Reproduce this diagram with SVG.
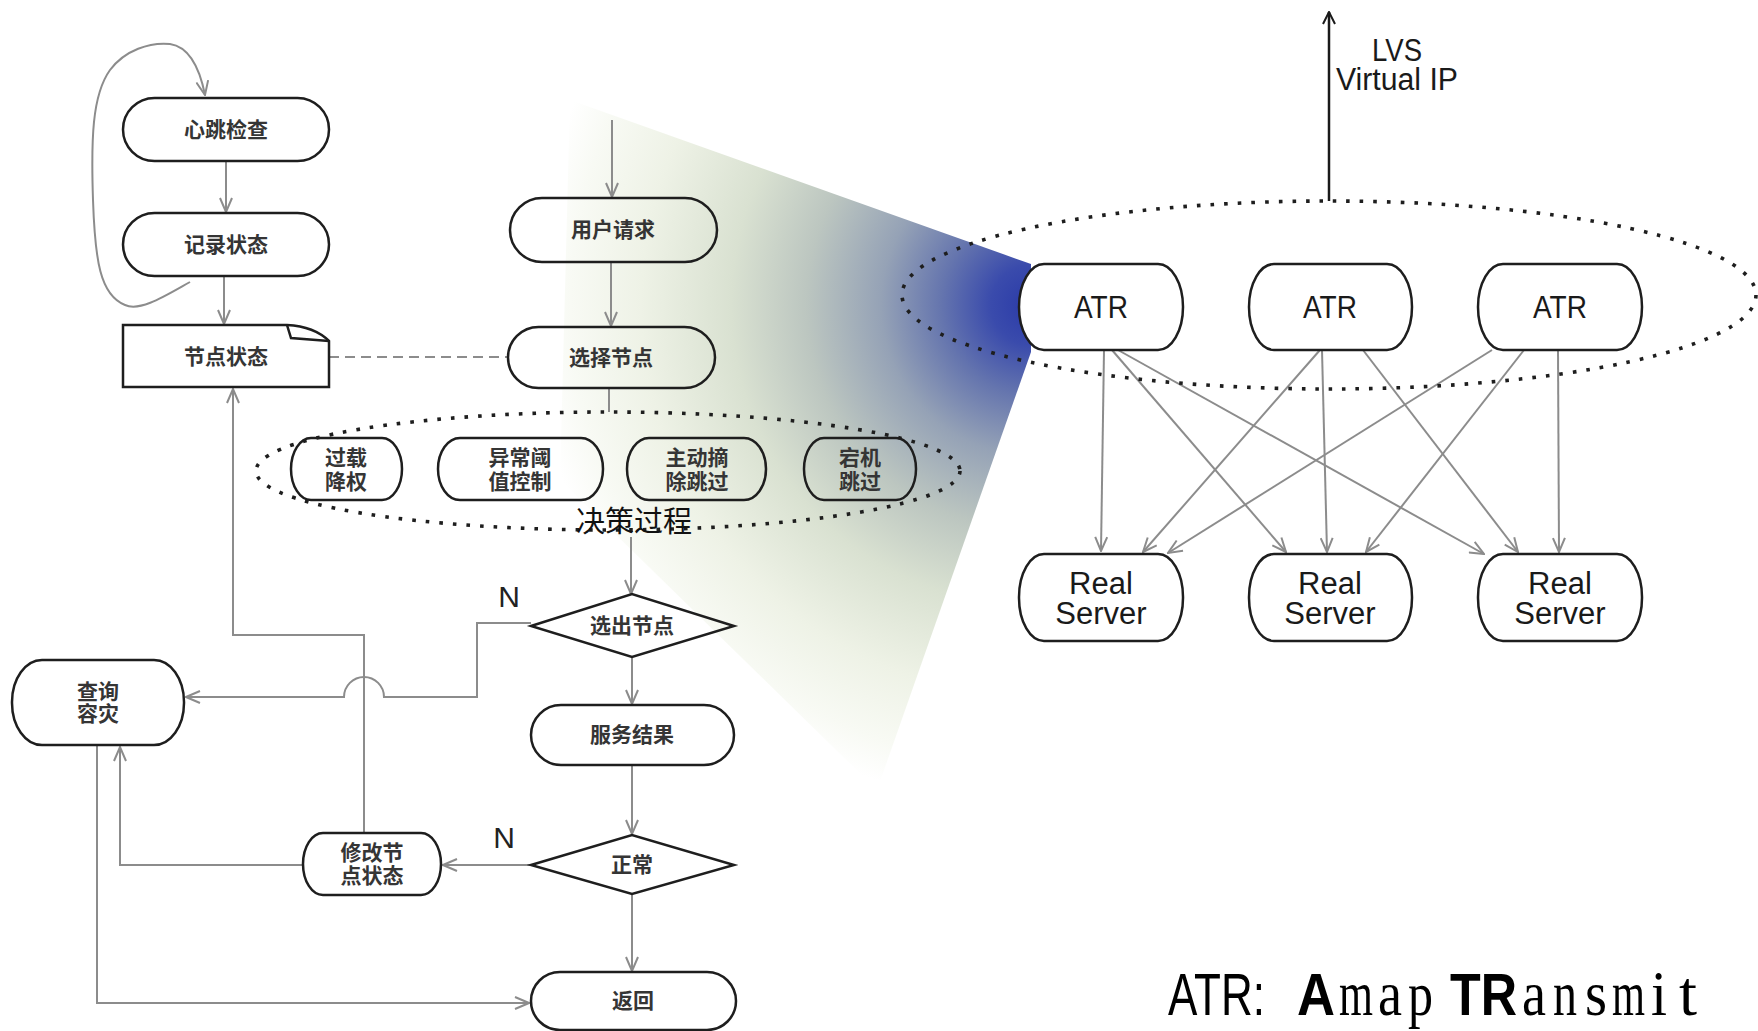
<svg xmlns="http://www.w3.org/2000/svg" width="1758" height="1031" viewBox="0 0 1758 1031">
  <defs>
    <!-- zoom-in wedge shading: pale green fading to deep blue at the ATR node -->
    <radialGradient id="wedgeGrad" gradientUnits="userSpaceOnUse" cx="1031" cy="305" r="500" fx="1031" fy="305">
      <stop offset="0" stop-color="#2a3aa8"/>
      <stop offset="0.08" stop-color="#3a4bac"/>
      <stop offset="0.18" stop-color="#6575ae"/>
      <stop offset="0.3" stop-color="#95a2b6"/>
      <stop offset="0.45" stop-color="#bcc6c0"/>
      <stop offset="0.6" stop-color="#d9e1d1"/>
      <stop offset="0.78" stop-color="#eef2e6"/>
      <stop offset="0.92" stop-color="#f8faf4"/>
      <stop offset="1" stop-color="#ffffff"/>
    </radialGradient>
    <marker id="arrowGray" markerUnits="userSpaceOnUse" markerWidth="16" markerHeight="14" viewBox="0 0 16 14" refX="15" refY="7" orient="auto">
      <path d="M1,1 L15,7 L1,13" fill="none" stroke="#8c8c8c" stroke-width="2"/>
    </marker>
    <marker id="arrowBlack" markerUnits="userSpaceOnUse" markerWidth="14" markerHeight="14" viewBox="0 0 14 14" refX="13" refY="7" orient="auto">
      <path d="M1,1 L13,7 L1,13" fill="none" stroke="#1a1a1a" stroke-width="2"/>
    </marker>
  </defs>
  <style>
    .box { fill: none; stroke: #1e1e1e; stroke-width: 2.5; }
    .wbox { fill: #ffffff; stroke: #1e1e1e; stroke-width: 2.5; }
    .zh { font-family: "Noto Sans CJK SC", "Noto Sans", sans-serif; font-size: 21px; font-weight: bold; fill: #353535; text-anchor: middle; }
    .en { font-family: "Liberation Sans", Arial, sans-serif; font-size: 31px; fill: #1a1a1a; text-anchor: middle; }
    .edge { fill: none; stroke: #8c8c8c; stroke-width: 2; }
    .arrow { marker-end: url(#arrowGray); }
    .dots { fill: none; stroke: #1e1e1e; stroke-width: 3.6; stroke-dasharray: 3.6 10; }
    .lbl { font-family: "Liberation Sans", Arial, sans-serif; font-size: 30px; fill: #222; text-anchor: middle; }
    .mono { font-family: "Liberation Serif", "Times New Roman", serif; font-size: 64px; }
  </style>

  <rect width="1758" height="1031" fill="#ffffff"/>

  <!-- shaded wedge linking the flowchart to the first ATR -->
  <polygon points="570,100 1031,264 1031,352 877,790 560,480" fill="url(#wedgeGrad)"/>

  <!-- connectors -->
  <g id="connectors">
    <!-- heartbeat loop -->
    <path class="edge arrow" d="M190,282 C165,296 140,312 125,305 C100,295 95,260 93,200 C91,140 92,95 110,70 C125,50 150,42 170,44 C190,47 200,70 205,95"/>
    <line class="edge arrow" x1="226" y1="161" x2="226" y2="212"/>
    <line class="edge arrow" x1="224" y1="276" x2="224" y2="324"/>
    <line x1="329" y1="357" x2="508" y2="357" stroke="#8c8c8c" stroke-width="2" stroke-dasharray="10 6"/>

    <line class="edge arrow" x1="612" y1="120" x2="612" y2="197"/>
    <line class="edge arrow" x1="611" y1="262" x2="611" y2="326"/>
    <line class="edge" x1="609" y1="388" x2="609" y2="412"/>
    <line class="edge arrow" x1="631" y1="537" x2="631" y2="594"/>
    <line class="edge arrow" x1="632" y1="657" x2="632" y2="704"/>
    <line class="edge arrow" x1="632" y1="765" x2="632" y2="834"/>
    <line class="edge arrow" x1="632" y1="894" x2="632" y2="971"/>

    <!-- not selected: fall back to disaster-recovery lookup (hops over the status line) -->
    <path class="edge arrow" d="M531,623 L477,623 L477,697 L384,697 A20,20 0 0 0 344,697 L186,697"/>
    <!-- abnormal: update node status -->
    <line class="edge arrow" x1="531" y1="865" x2="443" y2="865"/>
    <path class="edge arrow" d="M364,833 L364,635 L233,635 L233,389"/>
    <path class="edge arrow" d="M303,865 L120,865 L120,747"/>
    <path class="edge arrow" d="M97,745 L97,1003 L529,1003"/>

    <!-- LVS virtual IP -->
    <line x1="1329" y1="201" x2="1329" y2="12" stroke="#1a1a1a" stroke-width="2.5" marker-end="url(#arrowBlack)"/>

    <!-- ATR to Real Server mesh -->
    <line class="edge arrow" x1="1104" y1="350" x2="1101" y2="551"/>
    <line class="edge arrow" x1="1112" y1="350" x2="1286" y2="552"/>
    <line class="edge arrow" x1="1118" y1="350" x2="1484" y2="554"/>
    <line class="edge arrow" x1="1320" y1="350" x2="1143" y2="552"/>
    <line class="edge arrow" x1="1322" y1="350" x2="1327" y2="552"/>
    <line class="edge arrow" x1="1363" y1="350" x2="1518" y2="552"/>
    <line class="edge arrow" x1="1492" y1="350" x2="1168" y2="553"/>
    <line class="edge arrow" x1="1524" y1="350" x2="1366" y2="552"/>
    <line class="edge arrow" x1="1558" y1="350" x2="1559" y2="552"/>
  </g>

  <!-- health-check side -->
  <g id="node-heartbeat">
    <rect class="box" x="123" y="98" width="206" height="63" rx="31.5"/>
    <text class="zh" x="226" y="137">心跳检查</text>
  </g>
  <g id="node-record">
    <rect class="box" x="123" y="213" width="206" height="63" rx="31.5"/>
    <text class="zh" x="226" y="252">记录状态</text>
  </g>
  <g id="node-status">
    <path class="box" d="M123,325 L287,325 C305,326 320,332 329,341 L329,387 L123,387 Z"/>
    <path class="box" d="M287,325 L291,338 L329,341"/>
    <text class="zh" x="226" y="364">节点状态</text>
  </g>

  <!-- request flow -->
  <g id="node-request">
    <rect class="box" x="510" y="198" width="207" height="64" rx="32"/>
    <text class="zh" x="613" y="237">用户请求</text>
  </g>
  <g id="node-select">
    <rect class="box" x="508" y="327" width="207" height="61" rx="30.5"/>
    <text class="zh" x="611" y="365">选择节点</text>
  </g>

  <g id="group-decision">
    <ellipse class="dots" cx="608" cy="471" rx="352" ry="59"/>
    <text x="634" y="532" font-family="'Noto Sans CJK SC', sans-serif" font-size="29" fill="#111" text-anchor="middle">决策过程</text>
  </g>
  <g id="node-overload">
    <rect class="box" x="291" y="438" width="111" height="62" rx="20" ry="31"/>
    <text class="zh" x="346" y="465">过载<tspan x="346" dy="24">降权</tspan></text>
  </g>
  <g id="node-threshold">
    <rect class="box" x="438" y="438" width="165" height="62" rx="22" ry="31"/>
    <text class="zh" x="520" y="465">异常阈<tspan x="520" dy="24">值控制</tspan></text>
  </g>
  <g id="node-removed">
    <rect class="box" x="627" y="438" width="139" height="62" rx="22" ry="31"/>
    <text class="zh" x="697" y="465">主动摘<tspan x="697" dy="24">除跳过</tspan></text>
  </g>
  <g id="node-down">
    <rect class="box" x="804" y="438" width="112" height="62" rx="20" ry="31"/>
    <text class="zh" x="860" y="465">宕机<tspan x="860" dy="24">跳过</tspan></text>
  </g>

  <g id="node-picked">
    <polygon class="box" points="531,626 632,594 734,626 632,657"/>
    <text class="zh" x="632" y="633">选出节点</text>
    <text class="lbl" x="509" y="607">N</text>
  </g>
  <g id="node-result">
    <rect class="box" x="531" y="705" width="203" height="60" rx="30"/>
    <text class="zh" x="632" y="742">服务结果</text>
  </g>
  <g id="node-normal">
    <polygon class="box" points="531,865 632,835 734,865 632,894"/>
    <text class="zh" x="632" y="872">正常</text>
    <text class="lbl" x="504" y="848">N</text>
  </g>
  <g id="node-return">
    <rect class="box" x="531" y="972" width="205" height="58" rx="29"/>
    <text class="zh" x="633" y="1008">返回</text>
  </g>
  <g id="node-fallback">
    <rect class="box" x="12" y="660" width="172" height="85" rx="30" ry="42"/>
    <text class="zh" x="98" y="699">查询<tspan x="98" dy="22">容灾</tspan></text>
  </g>
  <g id="node-update">
    <rect class="box" x="303" y="833" width="138" height="62" rx="20" ry="31"/>
    <text class="zh" x="372" y="860">修改节<tspan x="372" dy="23">点状态</tspan></text>
  </g>

  <!-- ATR cluster -->
  <g id="group-lvs">
    <ellipse class="dots" cx="1329" cy="295" rx="427" ry="94"/>
    <text class="en" x="1397" y="61" textLength="50" lengthAdjust="spacingAndGlyphs">LVS</text>
    <text class="en" x="1397" y="90" textLength="122" lengthAdjust="spacingAndGlyphs">Virtual IP</text>
  </g>
  <g id="node-atr1">
    <rect class="wbox" x="1019" y="264" width="164" height="86" rx="25" ry="43"/>
    <text class="en" x="1101" y="318" textLength="54" lengthAdjust="spacingAndGlyphs">ATR</text>
  </g>
  <g id="node-atr2">
    <rect class="wbox" x="1249" y="264" width="163" height="86" rx="25" ry="43"/>
    <text class="en" x="1330" y="318" textLength="54" lengthAdjust="spacingAndGlyphs">ATR</text>
  </g>
  <g id="node-atr3">
    <rect class="wbox" x="1478" y="264" width="164" height="86" rx="25" ry="43"/>
    <text class="en" x="1560" y="318" textLength="54" lengthAdjust="spacingAndGlyphs">ATR</text>
  </g>
  <g id="node-rs1">
    <rect class="wbox" x="1019" y="554" width="164" height="87" rx="25" ry="43"/>
    <text class="en" x="1101" y="594">Real<tspan x="1101" dy="30">Server</tspan></text>
  </g>
  <g id="node-rs2">
    <rect class="wbox" x="1249" y="554" width="163" height="87" rx="25" ry="43"/>
    <text class="en" x="1330" y="594">Real<tspan x="1330" dy="30">Server</tspan></text>
  </g>
  <g id="node-rs3">
    <rect class="wbox" x="1478" y="554" width="164" height="87" rx="25" ry="43"/>
    <text class="en" x="1560" y="594">Real<tspan x="1560" dy="30">Server</tspan></text>
  </g>

  <!-- legend: sans capitals, lower case set one letter per fixed-width cell -->
  <g id="legend" fill="#000">
    <text x="1168" y="1015" font-family="'Liberation Sans', Arial, sans-serif" font-size="60" textLength="97" lengthAdjust="spacingAndGlyphs">ATR:</text>
    <text x="1297" y="1015" font-family="'Liberation Sans', Arial, sans-serif" font-size="60" font-weight="bold" textLength="38" lengthAdjust="spacingAndGlyphs">A</text>
    <text x="1450" y="1015" font-family="'Liberation Sans', Arial, sans-serif" font-size="60" font-weight="bold" textLength="67" lengthAdjust="spacingAndGlyphs">TR</text>
    <text class="mono" x="1339" y="1015" textLength="34" lengthAdjust="spacingAndGlyphs">m</text>
    <text class="mono" x="1378" y="1015" textLength="24" lengthAdjust="spacingAndGlyphs">a</text>
    <text class="mono" x="1408" y="1015" textLength="25" lengthAdjust="spacingAndGlyphs">p</text>
    <text class="mono" x="1522" y="1015" textLength="24" lengthAdjust="spacingAndGlyphs">a</text>
    <text class="mono" x="1553" y="1015" textLength="24" lengthAdjust="spacingAndGlyphs">n</text>
    <text class="mono" x="1585" y="1015" textLength="22" lengthAdjust="spacingAndGlyphs">s</text>
    <text class="mono" x="1612" y="1015" textLength="33" lengthAdjust="spacingAndGlyphs">m</text>
    <text class="mono" x="1651" y="1015" textLength="16" lengthAdjust="spacingAndGlyphs">i</text>
    <text class="mono" x="1679" y="1015" textLength="18" lengthAdjust="spacingAndGlyphs">t</text>
  </g>
</svg>
